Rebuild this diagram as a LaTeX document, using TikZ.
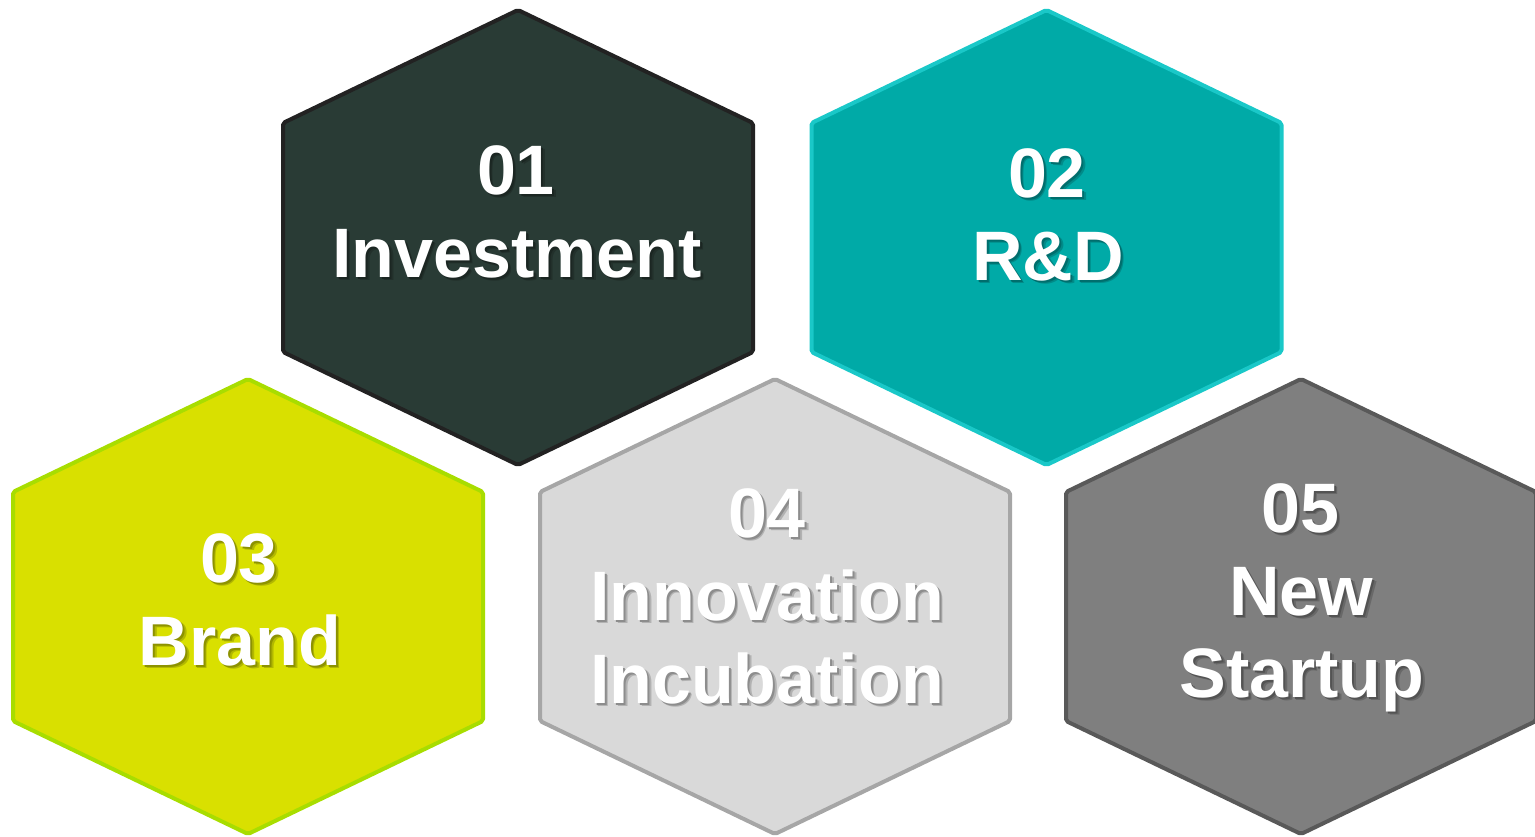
\documentclass[tikz,border=0pt]{standalone}
\usepackage{fontspec}
\setmainfont{Liberation Sans}
\definecolor{fillA}{HTML}{293B35}
\definecolor{drawA}{HTML}{222222}
\definecolor{fillB}{HTML}{00AAA7}
\definecolor{drawB}{HTML}{1AC8C8}
\definecolor{fillC}{HTML}{D9E000}
\definecolor{drawC}{HTML}{A8DD00}
\definecolor{fillD}{HTML}{D9D9D9}
\definecolor{drawD}{HTML}{A6A6A6}
\definecolor{fillE}{HTML}{7F7F7F}
\definecolor{drawE}{HTML}{595959}
\tikzset{
  hex/.style={line width=4pt, rounded corners=2pt, line join=round},
  lbl/.style={anchor=base, inner sep=0pt, text=white, font=\fontsize{70}{82}\selectfont\bfseries}
}
\newcommand{\hexa}[4]{%
  \draw[hex, fill=#3, draw=#4] (#1,#2-227.5) -- (#1+235,#2-114.5) -- (#1+235,#2+114.5)
    -- (#1,#2+227.5) -- (#1-235,#2+114.5) -- (#1-235,#2-114.5) -- cycle;}
% name, x, baseline y, fill colour (for shadow), text
\newcommand{\lbl}[5]{%
  \node[lbl] (#1) at (#2,#3) {%
    \rlap{\kern3.5pt\raisebox{-3.5pt}{\color{#4!82!black}#5}}%
    \rlap{\kern2pt\raisebox{-2pt}{\color{#4!65!black}#5}}%
    #5};}
\begin{document}
\begin{tikzpicture}[x=1pt,y=-1pt]
\useasboundingbox (0,0) rectangle (1535,836);
\hexa{518}{237.5}{fillA}{drawA}
\hexa{1046.5}{237.5}{fillB}{drawB}
\hexa{248}{606.5}{fillC}{drawC}
\hexa{775}{606.5}{fillD}{drawD}
\hexa{1301}{606.5}{fillE}{drawE}
\lbl{a1}{516}{194}{fillA}{01}
\lbl{a2}{517}{277}{fillA}{Investment}
\lbl{b1}{1047}{197}{fillB}{02}
\lbl{b2}{1048}{280}{fillB}{R\&D}
\lbl{c1}{239}{582}{fillC}{03}
\lbl{c2}{240}{665}{fillC}{Brand}
\lbl{d1}{767}{537}{fillD}{04}
\lbl{d2}{767}{620}{fillD}{Innovation}
\lbl{d3}{767}{703}{fillD}{Incubation}
\lbl{e1}{1300}{532}{fillE}{05}
\lbl{e2}{1301}{615}{fillE}{New}
\lbl{e3}{1302}{697}{fillE}{Startup}
\end{tikzpicture}
\end{document}
